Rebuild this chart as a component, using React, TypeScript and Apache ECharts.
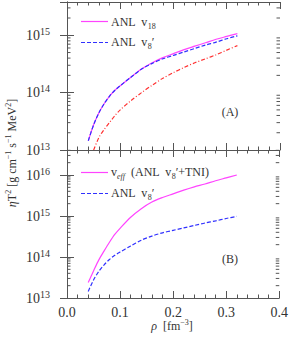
import React, { useEffect, useRef } from "react";
import * as echarts from "echarts";

// density rho [fm^-3]
const RHO = [0.04, 0.05, 0.06, 0.07, 0.08, 0.09, 0.1, 0.12, 0.14, 0.16, 0.18, 0.2, 0.22, 0.24, 0.26, 0.28, 0.3, 0.32];
const RHO_DASHDOT = [0.05, 0.06, 0.07, 0.08, 0.09, 0.1, 0.12, 0.14, 0.16, 0.18, 0.2, 0.22, 0.24, 0.26, 0.28, 0.3, 0.32];

// eta T^2 [g cm^-1 s^-1 MeV^2]
const ANL_V18 = [1.45e13, 2.75e13, 4.47e13, 6.46e13, 8.71e13, 1.1e14, 1.32e14, 1.86e14, 2.57e14, 3.31e14, 4.07e14, 4.79e14, 5.62e14, 6.46e14, 7.41e14, 8.51e14, 9.55e14, 1.07e15];
const ANL_V8P = [1.45e13, 2.75e13, 4.47e13, 6.46e13, 8.71e13, 1.1e14, 1.32e14, 1.86e14, 2.57e14, 3.24e14, 3.89e14, 4.47e14, 5.13e14, 5.89e14, 6.76e14, 7.59e14, 8.71e14, 9.77e14];
const DASHDOT_A = [1.0e13, 1.66e13, 2.29e13, 3.02e13, 3.98e13, 5.01e13, 7.24e13, 1.0e14, 1.35e14, 1.78e14, 2.24e14, 2.75e14, 3.31e14, 3.89e14, 4.57e14, 5.5e14, 6.61e14];
const V_EFF = [2.4e13, 4.57e13, 8.51e13, 1.41e14, 2.29e14, 3.55e14, 5.01e14, 9.33e14, 1.51e15, 2.19e15, 2.82e15, 3.47e15, 4.27e15, 5.13e15, 6.03e15, 7.24e15, 8.51e15, 1.0e16];

// axes (log10 exponents)
const X_TICKS = [0, 0.1, 0.2, 0.3, 0.4];
const TOP_DECADES = [13, 14, 15];
const BOT_DECADES = [13, 14, 15, 16];
const TOP_MAX = 15.58;
const BOT_MAX = 16.61;
const MINOR_FACTORS = [2, 3, 4, 5, 6, 7, 8, 9];

const MAGENTA = "#ff44ff";
const BLUE = "#3030ff";
const RED = "#ff3030";
const INK = "#333333";
const AXIS = "#555555";
const FONT = "Liberation Serif, DejaVu Serif, serif";

const pts = (xs: number[], ys: number[]) => xs.map((x, i) => [x, Math.log10(ys[i])]);

const minorList = (decades: number[], max: number) => {
  const out: number[][] = [];
  decades.forEach((d) => MINOR_FACTORS.forEach((k) => {
    const v = d + Math.log10(k);
    if (v < max) out.push([0, v]);
  }));
  return out;
};

export default function App() {
  const ref = useRef<HTMLDivElement>(null);
  useEffect(() => {
    if (!ref.current) return;
    const chart = echarts.init(ref.current, null, { renderer: "svg" });
    const axisLine = { show: true, lineStyle: { color: AXIS, width: 1 } };
    const xBase = (grid: number, pos: string, labels: boolean) => ({
      type: "value",
      gridIndex: grid,
      position: pos,
      min: X_TICKS[0],
      max: X_TICKS[X_TICKS.length - 1],
      interval: 0.1,
      axisLine,
      axisTick: { show: true, inside: true, length: 7, lineStyle: { color: AXIS } },
      minorTick: { show: true, splitNumber: 5, length: 3.5, lineStyle: { color: AXIS } },
      splitLine: { show: false },
      minorSplitLine: { show: false },
      axisLabel: labels
        ? { show: true, margin: 7, color: INK, fontFamily: FONT, fontSize: 14, formatter: (v: number) => v.toFixed(1) }
        : { show: false },
    });
    const yBase = (grid: number, pos: string, max: number, decades: number[], labels: boolean) => ({
      type: "value",
      gridIndex: grid,
      position: pos,
      min: decades[0],
      max,
      interval: 1,
      axisLine,
      axisTick: { show: true, inside: true, length: 7, lineStyle: { color: AXIS } },
      splitLine: { show: false },
      axisLabel: labels
        ? {
            show: true,
            margin: 17,
            showMaxLabel: false,
            fontFamily: FONT,
            formatter: (v: number) => (Number.isInteger(v) && decades.includes(v) ? `{b|10}{s|${v}}` : ""),
            rich: {
              b: { fontSize: 14, lineHeight: 18, fontFamily: FONT, color: INK, verticalAlign: "middle" },
              s: { fontSize: 10, lineHeight: 10, fontFamily: FONT, color: INK, verticalAlign: "top" },
            },
          }
        : { show: false },
    });
    const minorSeries = (grid: number, decades: number[], max: number) => ({
      type: "custom",
      xAxisIndex: grid * 2,
      yAxisIndex: grid * 2,
      silent: true,
      data: minorList(decades, max),
      encode: { x: 0, y: 1 },
      renderItem: (_p: any, api: any) => {
        const v = api.value(1);
        const a = api.coord([X_TICKS[0], v]);
        const b = api.coord([X_TICKS[X_TICKS.length - 1], v]);
        return {
          type: "group",
          children: [
            { type: "line", shape: { x1: a[0], y1: a[1], x2: a[0] + 3.5, y2: a[1] }, style: { stroke: AXIS, lineWidth: 1 } },
            { type: "line", shape: { x1: b[0] - 3.5, y1: b[1], x2: b[0], y2: b[1] }, style: { stroke: AXIS, lineWidth: 1 } },
          ],
        };
      },
    });
    const line = (name: string, xi: number, data: number[][], color: string, type: any) => ({
      type: "line",
      name,
      xAxisIndex: xi,
      yAxisIndex: xi,
      data,
      showSymbol: false,
      smooth: 0.3,
      clip: true,
      lineStyle: { color, width: 1.2, type },
    });
    const richN = { fontSize: 12, lineHeight: 16, fontFamily: FONT, fill: INK, verticalAlign: "middle" };
    const legendText = (y: number, text: string) => ({
      type: "text",
      x: 111,
      y,
      style: {
        text,
        fill: INK,
        align: "left",
        verticalAlign: "middle",
        rich: {
          n: richN,
          sub: { fontSize: 8, lineHeight: 8, fontFamily: FONT, fill: INK, verticalAlign: "bottom" },
          subi: { fontSize: 8, lineHeight: 8, fontFamily: FONT, fontStyle: "italic", fill: INK, verticalAlign: "bottom" },
        },
      },
    });
    const legendLine = (y: number, color: string, dash: any) => ({
      type: "line",
      shape: { x1: 81, y1: y, x2: 108, y2: y },
      style: { stroke: color, lineWidth: 1.2, lineDash: dash },
    });
    const titleRich = {
      n: richN,
      i: { fontSize: 12, lineHeight: 16, fontFamily: FONT, fontStyle: "italic", fill: INK, verticalAlign: "middle" },
      s: { fontSize: 8, lineHeight: 8, fontFamily: FONT, fill: INK, verticalAlign: "top" },
    };
    chart.setOption({
      animation: false,
      grid: [
        { left: 67, width: 213, top: 2, height: 148 },
        { left: 67, width: 213, top: 150, height: 148 },
      ],
      xAxis: [xBase(0, "bottom", false), xBase(0, "top", false), xBase(1, "bottom", true), xBase(1, "top", false)],
      yAxis: [
        yBase(0, "left", TOP_MAX, TOP_DECADES, true),
        yBase(0, "right", TOP_MAX, TOP_DECADES, false),
        yBase(1, "left", BOT_MAX, BOT_DECADES, true),
        yBase(1, "right", BOT_MAX, BOT_DECADES, false),
      ],
      series: [
        minorSeries(0, TOP_DECADES, TOP_MAX),
        minorSeries(1, BOT_DECADES, BOT_MAX),
        line("dash-dot", 0, pts(RHO_DASHDOT, DASHDOT_A), RED, [4, 2, 1, 2]),
        line("ANL v18", 0, pts(RHO, ANL_V18), MAGENTA, "solid"),
        line("ANL v8'", 0, pts(RHO, ANL_V8P), BLUE, [4, 2]),
        line("v_eff (ANL v8'+TNI)", 2, pts(RHO, V_EFF), MAGENTA, "solid"),
        line("ANL v8' (B)", 2, pts(RHO, ANL_V8P), BLUE, [4, 2]),
      ],
      graphic: [
        legendLine(21.5, MAGENTA, null),
        legendText(22, "{n|ANL  v}{sub|18}"),
        legendLine(42.5, BLUE, [4, 2]),
        legendText(42, "{n|ANL  v}{sub|8}{n|′}"),
        legendLine(172.5, MAGENTA, null),
        legendText(172, "{n|v}{subi|eff}{n|  (ANL  v}{sub|8}{n|′+TNI)}"),
        legendLine(193.5, BLUE, [4, 2]),
        legendText(193, "{n|ANL  v}{sub|8}{n|′}"),
        { type: "text", x: 230, y: 112, style: { text: "(A)", fill: INK, fontSize: 12, fontFamily: FONT, align: "center", verticalAlign: "middle" } },
        { type: "text", x: 230, y: 259, style: { text: "(B)", fill: INK, fontSize: 12, fontFamily: FONT, align: "center", verticalAlign: "middle" } },
        {
          type: "text",
          x: 12,
          y: 153,
          rotation: Math.PI / 2,
          style: {
            text: "{i|η}{n|T}{s|2}{n| [g cm}{s|−1}{n| s}{s|−1}{n| MeV}{s|2}{n|]}",
            align: "center",
            verticalAlign: "middle",
            rich: titleRich,
          },
        },
        {
          type: "text",
          x: 172,
          y: 326,
          style: {
            text: "{i|ρ}{n|  [fm}{s|−3}{n|]}",
            align: "center",
            verticalAlign: "middle",
            rich: titleRich,
          },
        },
      ],
    });
    return () => chart.dispose();
  }, []);
  return <div ref={ref} style={{ width: 291, height: 339, position: "absolute", left: 0, top: 0 }} />;
}
